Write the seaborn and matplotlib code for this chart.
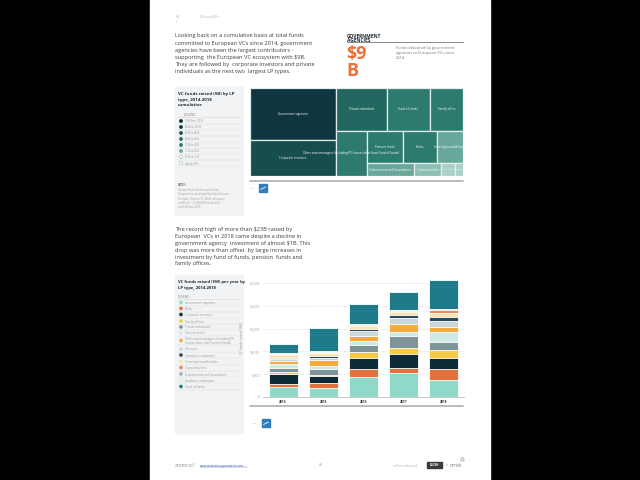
import numpy as np
import matplotlib
matplotlib.use("Agg")
import matplotlib.pyplot as plt
import seaborn as sns
from matplotlib.patches import Rectangle, Circle

# ---------------- data ----------------
header_page = "54"
header_section = "VCs and LPs"

para1_lines = [
    "Looking back on a cumulative basis at total funds",
    "committed to European VCs since 2014, government",
    "agencies have been the largest contributors -",
    "supporting  the European VC ecosystem with $9B.",
    "They are followed by  corporate investors and private",
    "individuals as the next two  largest LP types.",
]
para2_lines = [
    "The record high of more than $23B raised by",
    "European  VCs in 2018 came despite a decline in",
    "government agency  investment of almost $1B. This",
    "drop was more than offset  by large increases in",
    "investment by fund of funds, pension  funds and",
    "family offices.",
]

kpi_title_lines = ["GOVERNMENT", "AGENCIES"]
kpi_value_lines = ["$9", "B"]
kpi_note_lines = ["Funds allocated by government",
                  "agencies to European VCs since", "2014"]

treemap_title_lines = ["VC funds raised ($B) by LP", "type, 2014-2018", "cumulative"]
treemap_labels = [
    "Government agencies", "Corporate investors", "Private individuals",
    "Fund of funds", "Family office",
    "Other asset managers (including PE houses other than Fund of funds)",
    "Pension funds", "Banks", "Sovereign wealth funds",
    "Endowments and foundations", "Capital markets", "Insurance", "Academic",
]
treemap_values = [9.0, 6.3, 4.4, 3.7, 2.9, 2.8, 2.4, 2.2, 1.7, 1.2, 0.7, 0.36, 0.2]
treemap_strips = [2, 3, 1, 3, 4]
bin_edges = [0.5, 1.0, 2.0, 4.0, 6.0, 8.0, 10.0]
bin_colors = ["#a9d1c7", "#8cc0b4", "#67a89a", "#2c7b6e", "#226760",
              "#164d4f", "#0e3540", "#082a33"]
bin_labels = ["10.0 to 12.0", "8.0 to 10.0", "6.0 to 8.0", "4.0 to 6.0",
              "2.0 to 4.0", "1.0 to 2.0", "0.5 to 1.0", "up to 0.5"]
note_lines = ["Dataset from the European Data", "Cooperative, developed by Invest Europe.",
              "Includes: Venture VC. Note: all values", "in USD at 1.1 USD/EUR. Data valid",
              "as of 30 June 2019."]

bar_title_lines = ["VC funds raised ($M) per year by", "LP type, 2014-2018"]
years = ["2014", "2015", "2016", "2017", "2018"]
series_names = [
    "Government agencies", "Banks", "Corporate investors", "Family offices",
    "Private individuals", "Pension funds",
    "Other asset managers (including PE houses other than fund of funds)",
    "Unknown", "Insurance companies", "Sovereign wealth funds",
    "Capital markets", "Endowments and foundations", "Academic institutions",
    "Fund of funds",
]
series_colors = ["#8fd9c8", "#e4703c", "#0c2b37", "#f5cb46", "#7f9499", "#cfeae6",
                 "#f6a93c", "#c9d7db", "#2c4a5a", "#f9e5b0", "#ee8a5c", "#9fb5b5",
                 "#e3efec", "#1e7b8a"]
gov_agencies = [2190, 2070, 4380, 5260, 3630]
banks = [660, 900, 1680, 1200, 2460]
corporate = [2260, 1590, 2550, 2900, 2390]
family_offices = [290, 370, 1240, 1300, 1900]
private_ind = [950, 1170, 1460, 2750, 1750]
pension = [900, 740, 1030, 780, 2030]
other_am = [600, 1220, 1030, 1800, 1220]
unknown = [500, 590, 1090, 1370, 1200]
insurance = [250, 290, 510, 680, 880]
sovereign = [650, 640, 500, 540, 1020]
capital_mk = [150, 150, 300, 300, 580]
endowments = [100, 100, 150, 150, 150]
academic = [200, 150, 150, 150, 200]
fund_of_funds = [1970, 5180, 4230, 3920, 6290]
series_values = [gov_agencies, banks, corporate, family_offices, private_ind, pension,
                 other_am, unknown, insurance, sovereign, capital_mk, endowments,
                 academic, fund_of_funds]
y_ticks = [0, 5000, 10000, 15000, 20000, 25000]
y_label = "VC funds raised ($M)"

footer_brand = "atomico\u00b0"
footer_link = "www.stateofeuropeantech.com"
footer_page = "83"
footer_partner = "In Partnership with"

# ---------------- style ----------------
sns.set_theme(style="white")
plt.rcParams["font.family"] = ["Open Sans", "DejaVu Sans"]

fig = plt.figure(figsize=(6.4, 4.8), dpi=100, facecolor="black")

# overlay in pixel coordinates for page decoration
ov = fig.add_axes([0, 0, 1, 1], zorder=0)
ov.set_xlim(0, 640)
ov.set_ylim(480, 0)
ov.axis("off")
ov.add_patch(Rectangle((150, 0), 340, 480, color="white", zorder=0))

TXT = "#3d3d3d"
DARK = "#1c2a36"

# header
ov.text(176, 17, header_page, fontsize=2.4, color="#aaaaaa", va="center_baseline")
ov.text(176, 21.5, "1", fontsize=2.4, color="#aaaaaa", va="center_baseline")
ov.text(200, 17, header_section, fontsize=2.4, color="#aaaaaa", va="center_baseline")

# paragraphs
for i, line in enumerate(para1_lines):
    ov.text(175, 35.5 + 7.2 * i, line, fontsize=4.1, color=TXT, va="center_baseline")
for i, line in enumerate(para2_lines):
    ov.text(175, 229 + 6.9 * i, line, fontsize=4.1, color=TXT, va="center_baseline")

# KPI block
for i, line in enumerate(kpi_title_lines):
    ov.text(347, 35.5 + 4.6 * i, line, fontsize=3.5, color=DARK, weight="bold",
            va="center_baseline")
ov.plot([347, 463], [42, 42], color="#777777", lw=0.6)
ov.text(346, 52, kpi_value_lines[0], fontsize=13, color="#e8703a", weight="bold",
        va="center_baseline")
ov.text(346, 69, kpi_value_lines[1], fontsize=13, color="#e8703a", weight="bold",
        va="center_baseline")
for i, line in enumerate(kpi_note_lines):
    ov.text(396, 48 + 4.6 * i, line, fontsize=2.9, color="#777777", va="center_baseline")

# ---------- panel 1 (treemap legend) ----------
PANEL = "#f2f3f4"
ov.add_patch(Rectangle((175, 87), 68, 128, color=PANEL, zorder=0.5))
for i, line in enumerate(treemap_title_lines):
    ov.text(178, 94 + 5.5 * i, line, fontsize=3.2, color=DARK, weight="bold",
            va="center_baseline")
ov.text(184, 115, "LEGEND", fontsize=2.3, color="#888888", va="center_baseline")
ov.plot([178, 240], [117, 117], color="#d6d6d6", lw=0.4)
bin_colors_desc = bin_colors[::-1]
for i, lab in enumerate(bin_labels):
    yy = 121 + 6.0 * i
    fc = bin_colors_desc[i]
    ec = fc
    if i >= 6:
        fc = "white"
        ec = "#9db9b2"
    ov.add_patch(Circle((181, yy), 1.6, facecolor=fc, edgecolor=ec, lw=0.4, zorder=2))
    ov.text(185, yy, lab, fontsize=2.3, color="#888888", va="center_baseline")
    ov.plot([178, 240], [yy + 3, yy + 3], color="#dddddd", lw=0.35)
ov.text(178, 185, "NOTE:", fontsize=2.2, color="#777777", weight="bold",
        va="center_baseline")
for i, line in enumerate(note_lines):
    ov.text(178, 190 + 4.0 * i, line, fontsize=1.9, color="#999999", va="center_baseline")

# ---------- treemap ----------
TX0, TX1, TY0, TY1 = 250, 463, 88, 176
axt = fig.add_axes([TX0 / 640, 1 - TY1 / 480, (TX1 - TX0) / 640, (TY1 - TY0) / 480],
                   zorder=2)
W, H = TX1 - TX0, TY1 - TY0
axt.set_xlim(0, W)
axt.set_ylim(H, 0)
axt.axis("off")
axt.patch.set_alpha(0)


def strip_treemap(values, strips, x0, y0, x1, y1):
    rects = []
    i = 0
    remaining = float(sum(values))
    for k, n in enumerate(strips):
        vals = values[i:i + n]
        s = float(sum(vals))
        last = k == len(strips) - 1
        if last:
            if (x1 - x0) >= (y1 - y0):
                cx = x0
                for v in vals:
                    w = (x1 - x0) * v / s
                    rects.append((cx, y0, w, y1 - y0))
                    cx += w
            else:
                cy = y0
                for v in vals:
                    h = (y1 - y0) * v / s
                    rects.append((x0, cy, x1 - x0, h))
                    cy += h
        elif k % 2 == 0:
            w = (x1 - x0) * s / remaining
            cy = y0
            for v in vals:
                h = (y1 - y0) * v / s
                rects.append((x0, cy, w, h))
                cy += h
            x0 += w
        else:
            h = (y1 - y0) * s / remaining
            cx = x0
            for v in vals:
                w = (x1 - x0) * v / s
                rects.append((cx, y0, w, h))
                cx += w
            y0 += h
        remaining -= s
        i += n
    return rects


rects = strip_treemap(treemap_values, treemap_strips, 0, 0, W, H)
for (x, y, w, h), v, lab in zip(rects, treemap_values, treemap_labels):
    col = bin_colors[int(np.digitize(v, bin_edges))]
    axt.add_patch(Rectangle((x, y), w, h, facecolor=col, edgecolor="#e4edeb", lw=0.9))
    fs = 2.2 if w > 20 else 1.6
    axt.text(x + w / 2, y + h / 2, lab, fontsize=fs, color="white", ha="center",
             va="center", clip_on=False)

ov.plot([250, 463], [180.5, 180.5], color="#b5b5b5", lw=1.3)

# small logos


def logo(x, y):
    ov.add_patch(Rectangle((x, y), 8, 8, color="#2f7fbf", zorder=2))
    ov.plot([x + 1.5, x + 6.5], [y + 5.5, y + 3], color="white", lw=0.6, zorder=3)
    ov.plot([x - 9, x - 7], [y + 4, y + 4], color="#cccccc", lw=0.5)


logo(259, 184)
logo(262, 419)

# ---------- panel 2 (bar legend) ----------
ov.add_patch(Rectangle((175, 275), 68, 158, color=PANEL, zorder=0.5))
for i, line in enumerate(bar_title_lines):
    ov.text(178, 281.5 + 5.5 * i, line, fontsize=3.0, color=DARK, weight="bold",
            va="center_baseline")
ov.text(178, 296.5, "LEGEND", fontsize=2.3, color="#888888", va="center_baseline")
ov.plot([178, 240], [299, 299], color="#d6d6d6", lw=0.4)
leg_y = [302.5, 308.5, 314.5, 321, 327, 333, 340.5, 349, 355, 361.5, 367.5, 374, 380, 386.5]
for yy, name, col in zip(leg_y, series_names, series_colors):
    ov.add_patch(Circle((181, yy), 1.6, facecolor=col, edgecolor=col, lw=0.3, zorder=2))
    if len(name) > 40:
        ov.text(185, yy - 2.0, "Other asset managers (including PE", fontsize=2.2,
                color="#999999", va="center_baseline")
        ov.text(185, yy + 2.2, "houses other than fund of funds)", fontsize=2.2,
                color="#999999", va="center_baseline")
        ov.plot([178, 240], [yy + 4.8, yy + 4.8], color="#dddddd", lw=0.35)
    else:
        ov.text(185, yy, name, fontsize=2.2, color="#999999", va="center_baseline")
        ov.plot([178, 240], [yy + 3, yy + 3], color="#dddddd", lw=0.35)

# ---------- stacked bar chart ----------
BX0, BX1, BY0, BY1 = 263, 464, 278, 397
axb = fig.add_axes([BX0 / 640, 1 - BY1 / 480, (BX1 - BX0) / 640, (BY1 - BY0) / 480],
                   zorder=2)
axb.patch.set_alpha(0)
cum = np.cumsum(np.array(series_values, dtype=float), axis=0)
for k in reversed(range(len(series_names))):
    sns.barplot(x=years, y=cum[k], color=series_colors[k], saturation=1, width=0.72,
                edgecolor="white", linewidth=0.6, ax=axb)
axb.set_xlim(-0.5, 4.5)
axb.set_ylim(0, 26100)
axb.set_yticks(y_ticks)
axb.set_yticklabels([f"{t:,}" for t in y_ticks])
axb.yaxis.grid(True, color="#d9d9d9", linestyle=(0, (2, 2)), lw=0.5)
axb.set_axisbelow(True)
axb.tick_params(axis="y", length=0, pad=2, labelsize=2.4, labelcolor="#999999")
axb.tick_params(axis="x", length=0, pad=2, labelsize=2.4, labelcolor="#333333")
for t in axb.get_xticklabels():
    t.set_fontweight("bold")
for s in ["left", "right", "top"]:
    axb.spines[s].set_visible(False)
axb.spines["bottom"].set_color("#bbbbbb")
axb.spines["bottom"].set_linewidth(0.6)
axb.set_xlabel("")
axb.set_ylabel(y_label, fontsize=2.4, color="#999999", labelpad=4)

ov.plot([250, 463], [405.5, 405.5], color="#b5b5b5", lw=1.3)

# ---------- footer ----------
ov.text(175, 465, footer_brand, fontsize=3.6, color="#8a8a8a", va="center_baseline")
ov.text(200, 465, footer_link, fontsize=2.2, color="#3a5fb0", va="center_baseline")
ov.plot([200, 247], [466.8, 466.8], color="#3a5fb0", lw=0.3)
ov.text(319, 465, footer_page, fontsize=2.6, color="#aaaaaa", va="center_baseline")
ov.text(393, 465, footer_partner, fontsize=2.0, color="#aaaaaa", va="center_baseline")
ov.add_patch(Rectangle((427, 462), 15, 5.5, color="#3a3a3a", zorder=2))
ov.text(434.5, 465, "SLUSH", fontsize=2.2, color="white", weight="bold",
        ha="center", va="center_baseline", zorder=3)
ov.text(446, 465, "x", fontsize=2.2, color="#888888", va="center_baseline")
ov.text(450, 465, "orrick", fontsize=3.4, color="#777777", va="center_baseline")
ov.add_patch(Circle((462.5, 459.5), 1.6, facecolor="none", edgecolor="#777777", lw=0.4))

fig.savefig("out.png", dpi=100, facecolor=fig.get_facecolor())
